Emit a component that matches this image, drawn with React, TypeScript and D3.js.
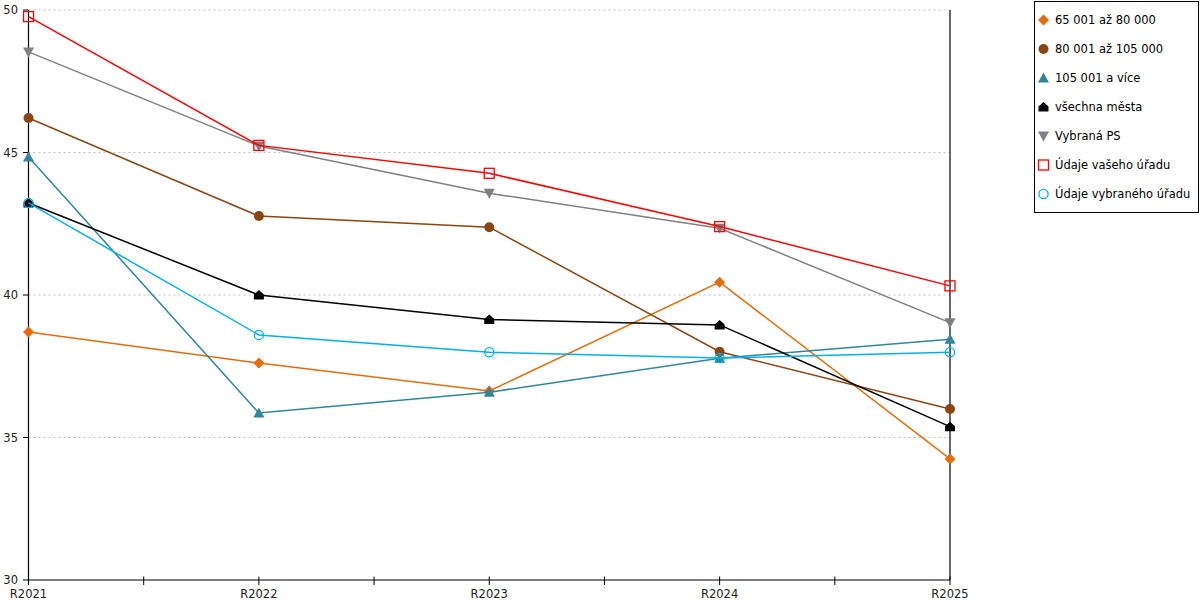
import React from "react";
import * as d3 from "d3";

const categories = ["R2021", "R2022", "R2023", "R2024", "R2025"];
const yTicks = [30, 35, 40, 45, 50];

const s65 = [38.7, 37.61, 36.63, 40.45, 34.25];
const s80 = [46.21, 42.77, 42.38, 38.01, 36.0];
const s105 = [44.84, 35.86, 36.59, 37.78, 38.45];
const sAll = [43.23, 40.0, 39.14, 38.95, 35.38];
const sPS = [48.53, 45.23, 43.57, 42.34, 39.03];
const sYour = [49.77, 45.25, 44.27, 42.4, 40.32];
const sSel = [43.23, 38.6, 37.99, 37.79, 37.99];

const seriesNames = [
  "65 001 až 80 000",
  "80 001 až 105 000",
  "105 001 a více",
  "všechna města",
  "Vybraná PS",
  "Údaje vašeho úřadu",
  "Údaje vybraného úřadu",
];

const seriesData = [s65, s80, s105, sAll, sPS, sYour, sSel];

const styles = [
  { color: "#E46C0A", marker: "diamond" },
  { color: "#8B4513", marker: "circle" },
  { color: "#31859C", marker: "triangle" },
  { color: "#000000", marker: "house" },
  { color: "#808080", marker: "down" },
  { color: "#FF0000", marker: "square" },
  { color: "#00B0F0", marker: "ocircle" },
];

const FONT = "'DejaVu Sans', Verdana, sans-serif";
const FS = 11.5;

function Marker({ type, color, x, y }: { type: string; color: string; x: number; y: number }) {
  const t = `translate(${x},${y})`;
  switch (type) {
    case "diamond":
      return <path transform={t} d="M0,-5.5L5.5,0L0,5.5L-5.5,0Z" fill={color} />;
    case "circle":
      return <circle cx={x} cy={y} r={5} fill={color} />;
    case "triangle":
      return <path transform={t} d="M0,-5.5L5.5,4.5L-5.5,4.5Z" fill={color} />;
    case "house":
      return <path transform={t} d="M0,-5L5,-0.5L5,4.5L-5,4.5L-5,-0.5Z" fill={color} />;
    case "down":
      return <path transform={t} d="M-5.5,-4.5L5.5,-4.5L0,5.5Z" fill={color} />;
    case "square":
      return <rect x={x - 5} y={y - 5} width={10} height={10} fill="none" stroke={color} strokeWidth={1.3} />;
    case "ocircle":
      return <circle cx={x} cy={y} r={4.6} fill="none" stroke={color} strokeWidth={1.3} />;
    default:
      return null;
  }
}

export default function App() {
  const left = 28.5;
  const right = 950;
  const top = 10;
  const bottom = 580;

  const x = d3.scalePoint<string>().domain(categories).range([left, right]);
  const y = d3.scaleLinear().domain([30, 50]).range([bottom, top]);
  const step = x.step();
  const xTickPos: number[] = [];
  categories.forEach((c, i) => {
    xTickPos.push(x(c) as number);
    if (i < categories.length - 1) xTickPos.push((x(c) as number) + step / 2);
  });

  const line = d3
    .line<number>()
    .x((_, i) => x(categories[i]) as number)
    .y((d) => y(d));

  const legendX = 1034.5;
  const legendY = 1.5;
  const legendRowY = (i: number) => 20 + i * 29;

  return (
    <svg
      width={1200}
      height={600}
      style={{ position: "absolute", left: 0, top: 0, background: "#fff" }}
      fontFamily={FONT}
    >
      <rect x={0} y={0} width={1200} height={600} fill="#fff" />
      {/* grid */}
      {yTicks
        .filter((v) => v !== 30)
        .map((v) => (
          <line
            key={"g" + v}
            x1={left}
            x2={right}
            y1={y(v)}
            y2={y(v)}
            stroke="#c0c0c0"
            strokeWidth={1}
            strokeDasharray="2,3"
          />
        ))}
      {/* right border */}
      <line x1={right} x2={right} y1={top} y2={bottom} stroke="#000" strokeWidth={1.2} />
      {/* y axis */}
      <line x1={left} x2={left} y1={top} y2={bottom} stroke="#000" strokeWidth={1.2} />
      {yTicks.map((v) => (
        <g key={"yt" + v}>
          <line x1={left - 5.5} x2={left} y1={y(v)} y2={y(v)} stroke="#000" strokeWidth={1} />
          <text x={18} y={y(v) + 4} textAnchor="end" fontSize={FS} fill="#222">
            {v}
          </text>
        </g>
      ))}
      {/* x axis */}
      <line x1={left} x2={right} y1={bottom} y2={bottom} stroke="#000" strokeWidth={1.2} />
      {xTickPos.map((p, i) => (
        <line key={"xt" + i} x1={p} x2={p} y1={bottom - 3.5} y2={bottom + 5} stroke="#000" strokeWidth={1} />
      ))}
      {categories.map((c) => (
        <text key={"xl" + c} x={x(c) as number} y={597.5} textAnchor="middle" fontSize={FS} fill="#222">
          {c}
        </text>
      ))}
      {/* series */}
      {seriesData.map((data, si) => (
        <g key={"s" + si}>
          <path d={line(data) || ""} fill="none" stroke={styles[si].color} strokeWidth={1.5} />
          {data.map((v, i) => (
            <Marker
              key={i}
              type={styles[si].marker}
              color={styles[si].color}
              x={x(categories[i]) as number}
              y={y(v)}
            />
          ))}
        </g>
      ))}
      {/* legend */}
      <rect x={legendX} y={legendY} width={164} height={211} fill="#fff" stroke="#000" strokeWidth={1} />
      {seriesNames.map((name, i) => (
        <g key={"l" + i}>
          <Marker type={styles[i].marker} color={styles[i].color} x={1043.5} y={legendRowY(i)} />
          <text x={1055} y={legendRowY(i) + 4} fontSize={FS} fill="#000">
            {name}
          </text>
        </g>
      ))}
    </svg>
  );
}
